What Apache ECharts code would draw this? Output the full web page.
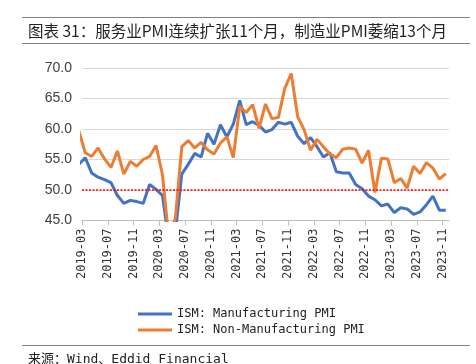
<!DOCTYPE html>
<html>
<head>
<meta charset="utf-8">
<script src="https://cdn.jsdelivr.net/npm/echarts@6/dist/echarts.min.js"></script>
<style>
html,body{margin:0;padding:0;background:#fff;}
#chart{width:476px;height:364px;}
</style>
</head>
<body>
<div id="chart"></div>
<script>
// Monthly data, 2019-02 .. 2023-11
const dataMonths = [
  '2019-02','2019-03','2019-04','2019-05','2019-06','2019-07','2019-08','2019-09','2019-10','2019-11','2019-12',
  '2020-01','2020-02','2020-03','2020-04','2020-05','2020-06','2020-07','2020-08','2020-09','2020-10','2020-11','2020-12',
  '2021-01','2021-02','2021-03','2021-04','2021-05','2021-06','2021-07','2021-08','2021-09','2021-10','2021-11','2021-12',
  '2022-01','2022-02','2022-03','2022-04','2022-05','2022-06','2022-07','2022-08','2022-09','2022-10','2022-11','2022-12',
  '2023-01','2023-02','2023-03','2023-04','2023-05','2023-06','2023-07','2023-08','2023-09','2023-10','2023-11'
];
const mfgPMI = [
  54.2, 55.3, 52.8, 52.1, 51.7, 51.2, 49.1, 47.8, 48.3, 48.1, 47.8,
  50.9, 50.1, 49.1, 41.5, 43.1, 52.6, 54.2, 56.0, 55.4, 59.3, 57.5, 60.7,
  58.7, 60.8, 64.7, 60.7, 61.2, 60.6, 59.5, 59.9, 61.1, 60.8, 61.1, 58.8,
  57.6, 58.6, 57.1, 55.4, 56.1, 53.0, 52.8, 52.8, 50.9, 50.2, 49.0, 48.4,
  47.4, 47.7, 46.3, 47.1, 46.9, 46.0, 46.4, 47.6, 49.0, 46.7, 46.7
];
const nonMfgPMI = [
  59.7, 56.1, 55.5, 56.9, 55.1, 53.7, 56.4, 52.6, 54.7, 53.9, 55.0,
  55.5, 57.3, 52.5, 41.8, 45.4, 57.1, 58.1, 56.9, 57.8, 56.6, 55.9, 57.7,
  58.7, 55.3, 63.7, 62.7, 64.0, 60.1, 64.1, 61.7, 61.9, 66.7, 69.1, 62.0,
  59.9, 56.5, 58.3, 57.1, 55.9, 55.3, 56.7, 56.9, 56.7, 54.4, 56.5, 49.6,
  55.2, 55.1, 51.2, 51.9, 50.3, 53.9, 52.7, 54.5, 53.6, 51.8, 52.7
];
// Tick labels along the time axis (every 4 months, starting at axis origin)
const tickLabels = [
  '2019-03','2019-07','2019-11','2020-03','2020-07','2020-11','2021-03','2021-07',
  '2021-11','2022-03','2022-07','2022-11','2023-03','2023-07','2023-11'
];
const seriesNames = ['ISM: Manufacturing PMI', 'ISM: Non-Manufacturing PMI'];
const threshold = 50;

// position of month i relative to the '2019-03' tick
const POS_OFFSET = -0.5;
const toPoints = arr => arr.map((v, i) => [i + POS_OFFSET, v]);
const tickVals = tickLabels.map((_, k) => k * 4);

const chart = echarts.init(document.getElementById('chart'), null, {renderer: 'canvas'});
const monoFont = '"DejaVu Sans Mono", "Noto Sans CJK SC", monospace';

chart.setOption({
  animation: false,
  backgroundColor: '#ffffff',
  grid: {left: 82, right: 27, top: 68, bottom: 143.5, containLabel: false},
  xAxis: {
    type: 'value',
    min: 0,
    max: 57,
    splitLine: {show: false},
    axisLine: {show: true, onZero: false, lineStyle: {color: '#bfbfbf', width: 1}},
    axisTick: {show: true, customValues: tickVals, length: 5, lineStyle: {color: '#bfbfbf'}},
    axisLabel: {
      customValues: tickVals,
      rotate: 90,
      margin: 8,
      fontFamily: monoFont,
      fontSize: 12,
      color: '#333333',
      formatter: v => tickLabels[Math.round(v / 4)] || ''
    }
  },
  yAxis: {
    type: 'value',
    min: 45,
    max: 70,
    interval: 5,
    axisLine: {show: false},
    axisTick: {show: false},
    splitLine: {show: true, lineStyle: {color: '#d9d9d9', width: 1}},
    axisLabel: {
      margin: 10,
      fontFamily: '"Liberation Sans", Arial, sans-serif',
      fontSize: 14,
      color: '#404040',
      formatter: v => v.toFixed(1)
    }
  },
  legend: {
    orient: 'vertical',
    left: 133,
    top: 301,
    itemWidth: 34,
    itemHeight: 3,
    itemGap: 0,
    icon: 'rect',
    data: seriesNames,
    textStyle: {fontFamily: monoFont, fontSize: 12, color: '#222222', lineHeight: 16}
  },
  series: [
    {
      name: seriesNames[0],
      type: 'line',
      data: toPoints(mfgPMI),
      showSymbol: false,
      symbol: 'none',
      clip: true,
      lineStyle: {color: '#4472C4', width: 3},
      itemStyle: {color: '#4472C4'},
      z: 2
    },
    {
      name: seriesNames[1],
      type: 'line',
      data: toPoints(nonMfgPMI),
      showSymbol: false,
      symbol: 'none',
      clip: true,
      lineStyle: {color: '#ED7D31', width: 3},
      itemStyle: {color: '#ED7D31'},
      z: 3,
      markLine: {
        silent: true,
        symbol: 'none',
        label: {show: false},
        lineStyle: {color: '#ff0000', width: 1.5, type: [2, 1.5]},
        data: [{yAxis: threshold}]
      }
    }
  ],
  graphic: [
    {type: 'line', shape: {x1: 22, y1: 17.5, x2: 470, y2: 17.5}, style: {stroke: '#808080', lineWidth: 1}},
    {type: 'text', left: 28, top: 23.5, style: {text: '图表 31：服务业PMI连续扩张11个月，制造业PMI萎缩13个月', font: '15.5px "Noto Sans CJK SC", sans-serif', fill: '#222222'}},
    {type: 'line', shape: {x1: 22, y1: 43.5, x2: 470, y2: 43.5}, style: {stroke: '#808080', lineWidth: 1}},
    {type: 'line', shape: {x1: 22, y1: 345.5, x2: 470, y2: 345.5}, style: {stroke: '#808080', lineWidth: 1}},
    {type: 'text', left: 28, top: 353, style: {text: '来源：Wind、Eddid Financial', font: '13px "DejaVu Sans Mono", "Noto Sans CJK SC", monospace', fill: '#222222'}}
  ]
});
</script>
</body>
</html>
